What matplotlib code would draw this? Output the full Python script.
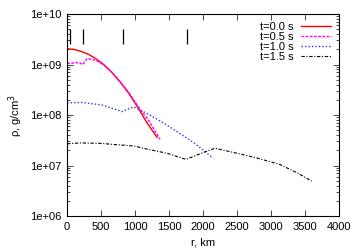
import matplotlib
matplotlib.use("Agg")
import matplotlib.pyplot as plt
from matplotlib.ticker import LogLocator, FixedLocator, NullFormatter

plt.rcParams['font.family'] = ['Liberation Sans', 'DejaVu Sans']

# density profiles, r in km, rho in g/cm^3
r0 = [0, 100, 220, 320, 416, 540, 662, 780, 907, 1054, 1176, 1324]
rho0 = [2.05e9, 2.0e9, 1.8e9, 1.58e9, 1.33e9, 1.0e9, 6.9e8, 4.5e8, 2.7e8, 1.32e8, 7.0e7, 3.6e7]

r1 = [0, 172, 230, 294, 416, 540, 662, 780, 907, 1054, 1200, 1368]
rho1 = [1.05e9, 1.1e9, 1.0e9, 1.32e9, 1.22e9, 0.98e9, 6.9e8, 4.6e8, 2.8e8, 1.42e8, 7.8e7, 3.3e7]

r2 = [0, 220, 515, 808, 980, 1220, 1470, 1853, 2150]
rho2 = [1.74e8, 1.78e8, 1.58e8, 1.17e8, 1.45e8, 1.0e8, 6.3e7, 2.9e7, 1.4e7]

r3 = [0, 200, 485, 700, 970, 1220, 1470, 1750, 2000, 2176, 2500, 2800, 3130, 3400, 3600]
rho3 = [2.7e7, 2.8e7, 2.75e7, 2.6e7, 2.45e7, 2.05e7, 1.75e7, 1.32e7, 1.8e7, 2.2e7, 1.75e7, 1.4e7, 1.05e7, 7.0e6, 4.9e6]

# marker positions (km)
marks = [44, 235, 823, 1765]

labels = ['t=0.0 s', 't=0.5 s', 't=1.0 s', 't=1.5 s']

fig = plt.figure(figsize=(3.59, 2.52), dpi=100)
ax = fig.add_axes([0.187, 0.143, 0.757, 0.801])

ax.plot(r0, rho0, color='#ff0000', lw=1.0, label=labels[0])
ax.plot(r1, rho1, color='#ff00ff', lw=1.0, ls=(0, (2, 1)), label=labels[1])
ax.plot(r2, rho2, color='#3030ff', lw=1.0, ls=(0, (1, 1.5)), label=labels[2])
ax.plot(r3, rho3, color='#000000', lw=0.8, ls=(0, (3, 1.5, 1, 1.5)), label=labels[3])

ax.vlines(marks, 2.5e9, 5e9, color='black', lw=0.9)

ax.set_yscale('log')
ax.set_xlim(0, 4000)
ax.set_ylim(1e6, 1e10)
ax.xaxis.set_major_locator(FixedLocator(range(0, 4001, 500)))
ax.yaxis.set_minor_locator(LogLocator(base=10, subs=range(2, 10), numticks=10))
ax.yaxis.set_minor_formatter(NullFormatter())
ax.set_yticks([1e6, 1e7, 1e8, 1e9, 1e10])
ax.set_yticklabels(['1e+06', '1e+07', '1e+08', '1e+09', '1e+10'])

ax.tick_params(which='both', direction='in', top=True, right=True, labelsize=8, pad=4)
ax.tick_params(which='major', length=4, width=0.5)
ax.tick_params(which='minor', length=2, width=0.5)
for s in ax.spines.values():
    s.set_linewidth(0.8)

ax.set_xlabel('r, km', fontsize=8, labelpad=4)
ax.set_ylabel('ρ, g/cm$^3$', fontsize=8, labelpad=4)

leg = ax.legend(loc='upper right', fontsize=8, frameon=False, markerfirst=False,
                handlelength=2.7, handletextpad=0.7, labelspacing=0.0,
                borderaxespad=0.3)

fig.savefig('out.png', dpi=100)
